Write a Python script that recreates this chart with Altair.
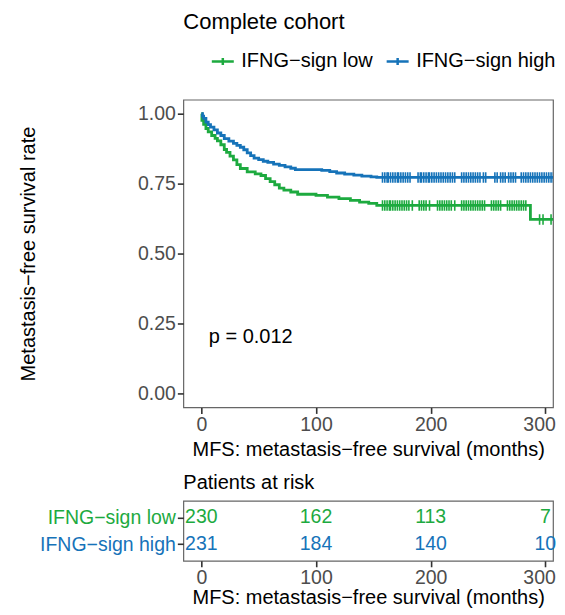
import altair as alt
import pandas as pd

FONT = "Liberation Sans"
GROUPS = ["IFNG\u2212sign low", "IFNG\u2212sign high"]
COLORS = ["#1DAA3F", "#1673B9"]

# Kaplan-Meier step points (time in months, survival probability)
low_time = [0, 0.5, 2, 4, 6, 9, 12, 14, 17, 20, 22, 25, 28, 31, 34, 40, 47, 52, 56, 60,
            64, 68, 72, 78, 84, 100, 110, 120, 130, 138, 146, 153, 287, 314]
low_surv = [1.0, 0.976, 0.962, 0.947, 0.935, 0.922, 0.912, 0.903, 0.889, 0.872, 0.862,
            0.848, 0.835, 0.818, 0.804, 0.792, 0.785, 0.779, 0.768, 0.757, 0.746, 0.734,
            0.727, 0.720, 0.712, 0.708, 0.702, 0.696, 0.690, 0.684, 0.679, 0.672, 0.622, 0.622]
high_time = [0, 1, 2, 4, 6, 8, 11, 14, 17, 20, 24, 28, 31, 34, 37, 40, 43, 46, 50, 54,
             58, 63, 68, 73, 78, 82, 105, 112, 118, 125, 133, 140, 148, 153, 314]
high_surv = [1.0, 0.991, 0.983, 0.970, 0.961, 0.952, 0.942, 0.931, 0.922, 0.911, 0.902,
             0.894, 0.887, 0.880, 0.871, 0.860, 0.850, 0.841, 0.836, 0.830, 0.826, 0.820,
             0.815, 0.810, 0.805, 0.800, 0.797, 0.793, 0.788, 0.784, 0.780, 0.777, 0.774,
             0.772, 0.772]

# censoring times
low_censor = [158, 160, 162, 164, 165, 167, 169, 171, 173, 175, 177, 179, 181, 184,
              190, 192, 194, 196, 199, 206, 208, 210, 212, 214, 216, 218, 221,
              227, 229, 231, 233, 235, 237, 239, 241, 243, 245, 247,
              253, 255, 257, 259, 261, 267, 269, 271, 273, 275, 277, 279, 281, 283,
              295, 298, 305, 308]
high_censor = [158, 160, 162, 163, 165, 167, 169, 171, 172, 174, 176, 178, 180, 182,
               189, 191, 192, 194, 196, 198, 199, 201, 203, 205, 207, 209, 211, 213, 215,
               217, 219, 221, 227, 229, 231, 233, 235, 237, 239, 241, 243, 246, 248,
               256, 258, 261, 263, 265, 268, 270, 272, 274,
               279, 281, 283, 285, 287, 289, 291, 293, 295, 297, 299, 301, 303, 305,
               307, 309, 311]

# numbers at risk
risk_time = [0, 100, 200, 300]
risk_low = [230, 162, 113, 7]
risk_high = [231, 184, 140, 10]

p_label = "p = 0.012"
p_time = 6.5
p_surv = 0.2


def surv_at(ts, ss, t):
    val = ss[0]
    for ti, si in zip(ts, ss):
        if ti <= t:
            val = si
    return val


curve = pd.concat([
    pd.DataFrame({"time": low_time, "surv": low_surv, "group": GROUPS[0]}),
    pd.DataFrame({"time": high_time, "surv": high_surv, "group": GROUPS[1]}),
])
cens = pd.concat([
    pd.DataFrame({"time": low_censor,
                  "surv": [surv_at(low_time, low_surv, t) for t in low_censor],
                  "group": GROUPS[0]}),
    pd.DataFrame({"time": high_censor,
                  "surv": [surv_at(high_time, high_surv, t) for t in high_censor],
                  "group": GROUPS[1]}),
])
risk = pd.concat([
    pd.DataFrame({"time": risk_time, "n": risk_low, "group": GROUPS[0]}),
    pd.DataFrame({"time": risk_time, "n": risk_high, "group": GROUPS[1]}),
])
ptxt = pd.DataFrame({"time": [p_time], "surv": [p_surv], "label": [p_label]})

XDOM = [-15.7, 306.7]
W = 370
XTITLE = "MFS: metastasis\u2212free survival (months)"

color_scale = alt.Scale(domain=GROUPS, range=COLORS)

x_main = alt.X("time:Q", scale=alt.Scale(domain=XDOM, nice=False, zero=False),
               axis=alt.Axis(values=[0, 100, 200, 300], title=XTITLE, titlePadding=5.5,
                             labelFlush=12, labelFlushOffset=10))
y_main = alt.Y("surv:Q", scale=alt.Scale(domain=[-0.05, 1.05], nice=False, zero=False),
               axis=alt.Axis(values=[0, 0.25, 0.5, 0.75, 1.0], format=".2f",
                             title="Metastasis\u2212free survival rate", titlePadding=99))

legend = alt.Legend(
    title=None, orient="none", direction="horizontal", legendX=27, legendY=-51,
    symbolType="M-1,0H1M0,-0.32V0.32", symbolSize=484, symbolStrokeWidth=2.5,
    labelFontSize=20, labelFont=FONT, labelColor="black", labelOffset=6,
    columnPadding=8, padding=0,
)

line = alt.Chart(curve).mark_line(interpolate="step-after", strokeWidth=2.8, clip=True).encode(
    x=x_main, y=y_main,
    color=alt.Color("group:N", scale=color_scale, legend=legend, sort=GROUPS),
)
marks = alt.Chart(cens).mark_point(shape="M0,-1V1", size=110, strokeWidth=1.6,
                                   filled=False, opacity=1, clip=True).encode(
    x=x_main, y=y_main,
    color=alt.Color("group:N", scale=color_scale, legend=legend, sort=GROUPS),
)
ptext = alt.Chart(ptxt).mark_text(align="left", baseline="middle", fontSize=20,
                                  font=FONT, color="black").encode(
    x=x_main, y=y_main, text="label:N")

main = alt.layer(line, marks, ptext).properties(
    width=W, height=308,
    title=alt.TitleParams("Complete cohort", anchor="start", frame="group", fontSize=22,
                          fontWeight="normal", font=FONT, color="black", offset=66),
)

label_color = {"condition": {"test": "datum.value === '" + GROUPS[0] + "'", "value": COLORS[0]},
               "value": COLORS[1]}

risk_chart = alt.Chart(risk).mark_text(fontSize=19.5, font=FONT, baseline="middle",
                                       align="center").encode(
    x=alt.X("time:Q", scale=alt.Scale(domain=XDOM, nice=False, zero=False),
            axis=alt.Axis(values=[0, 100, 200, 300], title=XTITLE, titlePadding=0,
                          labelPadding=2, labelFlush=12, labelFlushOffset=10)),
    y=alt.Y("group:N", scale=alt.Scale(type="point", domain=GROUPS, padding=0.62),
            axis=alt.Axis(title=None, labelColor=label_color, labelFontSize=19.5)),
    color=alt.Color("group:N", scale=color_scale, legend=None),
    text="n:Q",
).properties(
    width=W, height=60,
    title=alt.TitleParams("Patients at risk", anchor="start", frame="group", fontSize=20,
                          fontWeight="normal", font=FONT, color="black", offset=8),
)

chart = alt.vconcat(main, risk_chart, spacing=11.5).properties(
    padding={"left": 9.5, "top": 1.5, "right": 0, "bottom": 0},
).configure_view(
    stroke="#666666", strokeWidth=1.2,
).configure_axis(
    domain=False, grid=False, ticks=True, tickColor="#333333", tickWidth=1.6, tickSize=6,
    labelPadding=2, labelColor="#4D4D4D", labelFontSize=19.5, labelFont=FONT,
    titleFont=FONT, titleFontSize=20, titleColor="black", titleFontWeight="normal",
).configure_concat(spacing=11.5)

chart.save("out.html", embed_options={"renderer": "svg", "actions": False})
